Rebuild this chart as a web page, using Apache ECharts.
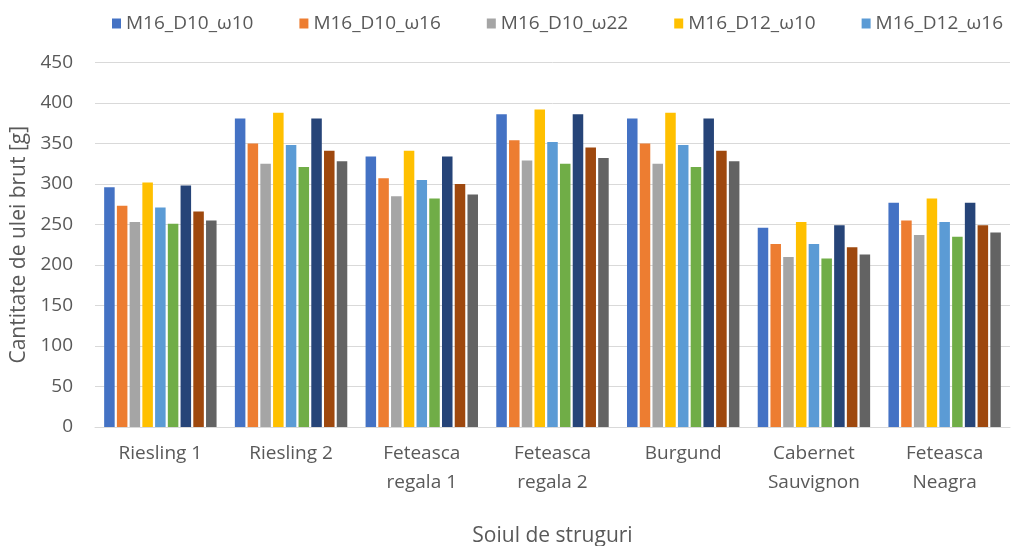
<!DOCTYPE html>
<html>
<head>
<meta charset="utf-8">
<script src="https://cdn.jsdelivr.net/npm/echarts@6/dist/echarts.min.js"></script>
<style>
  html, body { margin: 0; padding: 0; background: #fff; }
  #chart { width: 1013px; height: 546px; }
</style>
</head>
<body>
<div id="chart"></div>
<script>
// Grape varieties on the category axis
const categories = ['Riesling 1', 'Riesling 2', 'Feteasca\nregala 1', 'Feteasca\nregala 2', 'Burgund', 'Cabernet\nSauvignon', 'Feteasca\nNeagra'];

// Series names (process variants)
const seriesNames = ['M16_D10_ω10', 'M16_D10_ω16', 'M16_D10_ω22', 'M16_D12_ω10', 'M16_D12_ω16', 'M16_D12_ω22', 'M16_D14_ω10', 'M16_D14_ω16', 'M16_D14_ω22'];

// Crude oil quantity [g] per variant
const M16_D10_w10 = [296, 381, 334, 386, 381, 246, 277];
const M16_D10_w16 = [273, 350, 307, 354, 350, 226, 255];
const M16_D10_w22 = [253, 325, 285, 329, 325, 210, 237];
const M16_D12_w10 = [302, 388, 341, 392, 388, 253, 282];
const M16_D12_w16 = [271, 348, 305, 352, 348, 226, 253];
const M16_D12_w22 = [251, 321, 282, 325, 321, 208, 235];
const M16_D14_w10 = [298, 381, 334, 386, 381, 249, 277];
const M16_D14_w16 = [266, 341, 300, 345, 341, 222, 249];
const M16_D14_w22 = [255, 328, 287, 332, 328, 213, 240];

const seriesValues = [M16_D10_w10, M16_D10_w16, M16_D10_w22, M16_D12_w10, M16_D12_w16, M16_D12_w22, M16_D14_w10, M16_D14_w16, M16_D14_w22];

// Legend shows the first row of entries
const legendNames = seriesNames.slice(0, 5);

// Y axis ticks
const yMin = 0, yMax = 450, yStep = 50;

const colors = ['#4472C4', '#ED7D31', '#A5A5A5', '#FFC000', '#5B9BD5', '#70AD47', '#264478', '#9E480E', '#636363'];
const FONT = 'Open Sans';
const TEXT = '#595959';

const chart = echarts.init(document.getElementById('chart'), null, { renderer: 'canvas' });

chart.setOption({
  animation: false,
  color: colors,
  textStyle: { fontFamily: FONT },
  legend: {
    data: legendNames,
    left: 107,
    top: 9,
    itemWidth: 9,
    itemHeight: 10,
    itemGap: 46,
    icon: 'rect',
    textStyle: { color: TEXT, fontSize: 19, fontFamily: FONT }
  },
  grid: { left: 95, right: 3, top: 62.5, bottom: 119, containLabel: false, outerBoundsMode: 'none' },
  xAxis: {
    type: 'category',
    data: categories,
    name: 'Soiul de struguri',
    nameLocation: 'middle',
    nameGap: 99,
    nameTextStyle: { color: TEXT, fontSize: 21, fontFamily: FONT },
    axisLine: { lineStyle: { color: '#D9D9D9', width: 1 } },
    axisTick: { show: false },
    axisLabel: { color: TEXT, fontSize: 19, fontFamily: FONT, margin: 12, lineHeight: 29, interval: 0 }
  },
  yAxis: {
    type: 'value',
    min: yMin,
    max: yMax,
    interval: yStep,
    name: 'Cantitate de ulei brut [g]',
    nameLocation: 'middle',
    nameGap: 56,
    nameTextStyle: { color: TEXT, fontSize: 21, fontFamily: FONT },
    axisLine: { show: false },
    axisTick: { show: false },
    axisLabel: { color: TEXT, fontSize: 19, fontFamily: FONT, margin: 22 },
    splitLine: { lineStyle: { color: '#D9D9D9', width: 1 } }
  },
  series: seriesNames.map((name, i) => ({
    name: name,
    type: 'bar',
    data: seriesValues[i],
    barGap: '21%',
    barCategoryGap: '14%',
    itemStyle: { color: colors[i] }
  }))
});
</script>
</body>
</html>
